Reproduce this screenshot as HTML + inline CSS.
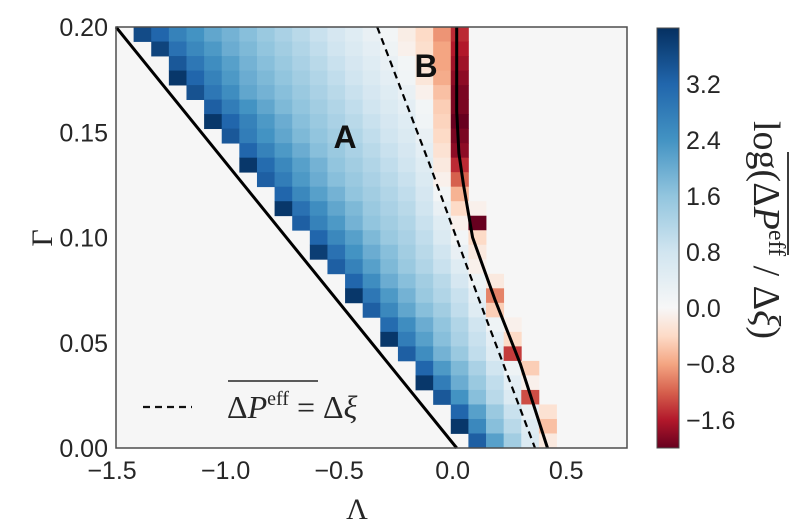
<!DOCTYPE html>
<html><head><meta charset="utf-8"><style>
body{margin:0;background:#fff;}
svg{display:block;}
.tk{font-family:"Liberation Sans",sans-serif;font-size:25px;fill:#262626;}
.sf{font-family:"Liberation Serif","DejaVu Serif",serif;fill:#262626;}
</style></head><body>
<svg id="chart" width="800" height="527" viewBox="0 0 800 527" xmlns="http://www.w3.org/2000/svg">
<defs>
<linearGradient id="cbg" x1="0" y1="1" x2="0" y2="0">
<stop offset="0" stop-color="#67001f"/><stop offset="0.0667" stop-color="#b2182b"/><stop offset="0.1333" stop-color="#d6604d"/><stop offset="0.2" stop-color="#f4a582"/><stop offset="0.2667" stop-color="#fddbc7"/><stop offset="0.3333" stop-color="#f7f7f7"/><stop offset="0.4667" stop-color="#d1e5f0"/><stop offset="0.6" stop-color="#92c5de"/><stop offset="0.7333" stop-color="#4393c3"/><stop offset="0.8667" stop-color="#2166ac"/><stop offset="1" stop-color="#053061"/>
</linearGradient>
</defs>
<rect x="116" y="27" width="511" height="421" fill="#f6f6f6"/>
<g id="cells"></g>
<g id="lines"></g>
<rect x="116" y="27" width="511" height="421" fill="none" stroke="#4d4d4d" stroke-width="1.5"/>
<g id="xt"></g>
<g id="yt"></g>
<text class="sf" x="357" y="519" font-size="30" text-anchor="middle">Λ</text>
<text class="sf" x="42" y="238" font-size="30" text-anchor="middle" transform="rotate(-90 42 238)" dy="10">Γ</text>
<text x="345" y="148" font-family="Liberation Sans,sans-serif" font-weight="bold" font-size="32" text-anchor="middle" fill="#111">A</text>
<text x="426" y="77" font-family="Liberation Sans,sans-serif" font-weight="bold" font-size="32" text-anchor="middle" fill="#111">B</text>
<g>
<line x1="143" y1="407" x2="192" y2="407" stroke="#111" stroke-width="2.2" stroke-dasharray="7,5"/>
<line x1="228" y1="381" x2="318" y2="381" stroke="#262626" stroke-width="1.6"/>
<text class="sf" x="227" y="418" font-size="32">Δ<tspan font-style="italic">P</tspan><tspan font-size="20" dy="-13">eff</tspan><tspan dy="13"> = Δ</tspan><tspan font-style="italic">ξ</tspan></text>
</g>
<rect x="657" y="28" width="22" height="420" fill="url(#cbg)" stroke="#4d4d4d" stroke-width="1"/>
<g id="ct"></g>
<g transform="translate(754 230) rotate(90)">
<text class="sf" x="0" y="0" font-size="38" text-anchor="middle">log(Δ<tspan font-style="italic">P</tspan><tspan font-size="24" dy="-15">eff</tspan><tspan dy="15"> / Δ</tspan><tspan font-style="italic">ξ</tspan>)</text>
<line x1="-78" y1="-34" x2="25" y2="-34" stroke="#262626" stroke-width="1.8"/>
</g>
</svg>
<script>
const xTicks=[-1.5,-1.0,-0.5,0.0,0.5];
const yTicks=[0.00,0.05,0.10,0.15,0.20];
const cbTicks=[3.2,2.4,1.6,0.8,0.0,-0.8,-1.6];
const rowStart=[1,2,3,3,4,5,5,6,7,7,8,9,9,10,11,11,12,13,13,14,15,15,16,17,17,18,19,19,20];
const rowValues=[
[3.6,3.2,2.7,2.4,2.1,1.9,1.7,1.5,1.3,1.1,0.9,0.7,0.5,0.3,0.1,-0.15,-0.4,-0.9,-1.5],
[3.7,3.0,2.6,2.3,2.0,1.8,1.6,1.4,1.2,1.0,0.8,0.6,0.4,0.2,-0.1,-0.35,-0.8,-1.6],
[3.4,2.9,2.5,2.2,1.9,1.7,1.5,1.3,1.1,0.9,0.7,0.5,0.3,0.1,-0.3,-0.8,-1.7],
[3.9,3.2,2.7,2.3,2.0,1.8,1.6,1.4,1.2,1.0,0.8,0.6,0.4,0.15,-0.25,-0.75,-1.8],
[3.5,2.9,2.5,2.1,1.9,1.7,1.5,1.3,1.1,0.9,0.7,0.5,0.3,-0.1,-0.6,-1.9],
[3.3,2.8,2.4,2.1,1.8,1.6,1.4,1.2,1.0,0.8,0.6,0.4,0.1,-0.5,-1.9],
[3.9,3.2,2.7,2.3,2.0,1.7,1.5,1.3,1.1,0.9,0.7,0.5,0.15,-0.45,-2.0],
[3.4,2.8,2.4,2.1,1.8,1.6,1.4,1.2,1.0,0.8,0.6,0.3,-0.4,-1.9],
[3.2,2.7,2.3,2.0,1.7,1.5,1.3,1.1,0.9,0.7,0.4,-0.3,-1.8],
[3.9,3.1,2.6,2.2,1.9,1.6,1.4,1.2,1.0,0.8,0.5,-0.2,-1.5],
[3.3,2.8,2.3,2.0,1.7,1.5,1.3,1.1,0.9,0.6,-0.1,-1.2],
[3.2,2.6,2.2,1.9,1.6,1.4,1.2,1.0,0.7,0.1,-0.7],
[3.9,3.0,2.5,2.1,1.8,1.5,1.3,1.1,0.8,0.3,-0.4,-0.1],
[3.3,2.7,2.3,1.9,1.6,1.4,1.2,0.9,0.5,-0.1,-2.0],
[3.2,2.6,2.2,1.8,1.5,1.3,1.0,0.6,0.1,-0.4],
[3.8,3.0,2.4,2.0,1.7,1.4,1.1,0.8,0.3,-0.2],
[3.3,2.7,2.2,1.8,1.5,1.2,0.9,0.5,-0.1],
[3.2,2.5,2.0,1.7,1.4,1.1,0.7,0.2,-0.2],
[3.9,2.9,2.3,1.9,1.5,1.2,0.9,0.4,-1.0],
[3.3,2.6,2.1,1.7,1.4,1.0,0.5,-0.5],
[3.1,2.5,2.0,1.6,1.2,0.8,0.2,-0.1],
[3.9,2.8,2.2,1.7,1.3,0.9,0.4,-0.4],
[3.3,2.5,1.9,1.5,1.0,0.5,-1.4],
[3.2,2.3,1.8,1.3,0.8,0.2,-0.5],
[3.9,2.8,2.0,1.5,1.0,0.4,-0.1],
[3.4,2.4,1.7,1.1,0.6,-1.3],
[3.2,2.2,1.5,0.9,0.3,-0.3],
[3.9,2.6,1.7,1.1,0.5,-0.6],
[3.3,2.2,1.4,0.6,-0.2]
];
const leftLineL=[-1.5,0.0], leftLineG=[0.2,0.0];
const dashL=[-0.35,-0.12,0.1,0.345], dashG=[0.2,0.135,0.07,0.0];
const rightL=[0.0,0.0,0.01,0.03,0.07,0.17,0.28,0.40], rightG=[0.2,0.16,0.14,0.125,0.10,0.07,0.04,0.0];

const NS='http://www.w3.org/2000/svg';
const X0=116,X1=627,Y0=448,Y1=27,LMIN=-1.5,LMAX=0.75,GMIN=0,GMAX=0.2,N=29;
const xs=l=>X0+(l-LMIN)/(LMAX-LMIN)*(X1-X0);
const ys=g=>Y0-(g-GMIN)/(GMAX-GMIN)*(Y0-Y1);
const cw=(X1-X0)/N,ch=(Y0-Y1)/N;
const stops=[[0,[103,0,31]],[0.1,[178,24,43]],[0.2,[214,96,77]],[0.3,[244,165,130]],[0.4,[253,219,199]],[0.5,[247,247,247]],[0.6,[209,229,240]],[0.7,[146,197,222]],[0.8,[67,147,195]],[0.9,[33,102,172]],[1,[5,48,97]]];
function color(v){let t=v<0?0.5+0.5*Math.max(v,-2)/2:0.5+0.5*Math.min(v,4)/4;
for(let i=1;i<stops.length;i++){if(t<=stops[i][0]){const a=stops[i-1],b=stops[i],f=(t-a[0])/(b[0]-a[0]);
return 'rgb('+a[1].map((c,k)=>Math.round(c+(b[1][k]-c)*f)).join(',')+')';}}return 'rgb(5,48,97)';}
const cells=document.getElementById('cells');
rowValues.forEach((row,r)=>{row.forEach((v,k)=>{const c=rowStart[r]+k;
const el=document.createElementNS(NS,'rect');


el.setAttribute('x',(X0+c*cw).toFixed(2));el.setAttribute('y',(Y1+r*ch).toFixed(2));
el.setAttribute('width',(cw+0.4).toFixed(2));el.setAttribute('height',(ch+0.4).toFixed(2));
el.setAttribute('fill',color(v));cells.appendChild(el);});});
const lines=document.getElementById('lines');
function poly(L,G,name,dash){const el=document.createElementNS(NS,'polyline');


el.setAttribute('points',L.map((l,i)=>xs(l).toFixed(1)+','+ys(G[i]).toFixed(1)).join(' '));
el.setAttribute('fill','none');el.setAttribute('stroke','#000');el.setAttribute('stroke-width',dash?'2.2':'3');
el.setAttribute('stroke-linejoin','round');if(dash)el.setAttribute('stroke-dasharray','7,5');lines.appendChild(el);}
poly(leftLineL,leftLineG,'left-boundary-line',false);
poly(dashL,dashG,'dashed-equality-line',true);
poly(rightL,rightG,'right-boundary-curve',false);
const fmt=v=>(v<0?'−':'')+Math.abs(v).toFixed(1);
const xt=document.getElementById('xt');
xTicks.forEach(v=>{const t=document.createElementNS(NS,'text');


t.setAttribute('class','tk');t.setAttribute('x',xs(v)-4);t.setAttribute('y',479);t.setAttribute('text-anchor','middle');t.textContent=fmt(v);xt.appendChild(t);});
const yt=document.getElementById('yt');
yTicks.forEach(v=>{const t=document.createElementNS(NS,'text');


t.setAttribute('class','tk');t.setAttribute('x',108);t.setAttribute('y',ys(v)+9);t.setAttribute('text-anchor','end');t.textContent=v.toFixed(2);yt.appendChild(t);});
const ct=document.getElementById('ct');
const cy=v=>448-(v+2)/6*420;
cbTicks.forEach(v=>{const t=document.createElementNS(NS,'text');


t.setAttribute('class','tk');t.setAttribute('x',686);t.setAttribute('y',cy(v)+9);t.textContent=fmt(v);ct.appendChild(t);});
</script>
</body></html>
